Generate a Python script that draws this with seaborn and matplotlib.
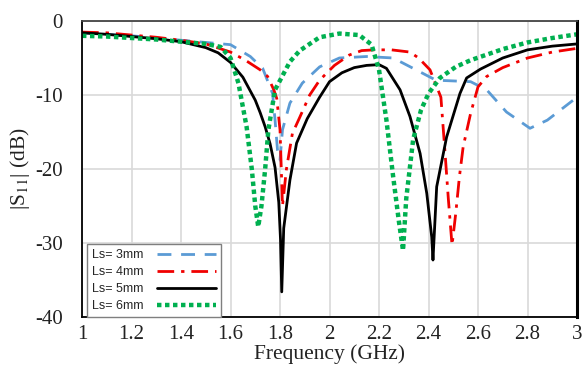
import numpy as np
import pandas as pd
import seaborn as sns
import matplotlib.pyplot as plt

# S11 curves (frequency in GHz, S11 in dB)
freq_3mm = [1.0, 1.1, 1.2, 1.3, 1.4, 1.5, 1.6, 1.68, 1.73, 1.77, 1.78, 1.79, 1.80, 1.81, 1.84,
            1.89, 1.96, 2.04, 2.15, 2.257, 2.338, 2.43, 2.57, 2.635, 2.715, 2.81, 2.88, 3.0]
s11_3mm = [-1.6, -1.8, -2.0, -2.3, -2.6, -2.9, -3.2, -4.8, -6.4, -9.8, -13.4, -17.5, -18.8, -14.7, -11.1,
           -8.4, -6.2, -5.0, -4.8, -5.0, -6.4, -8.0, -8.2, -9.3, -12.3, -14.5, -13.4, -10.3]

freq_4mm = [1.0, 1.1, 1.2, 1.3, 1.4, 1.5, 1.6, 1.66, 1.72, 1.75, 1.775, 1.787, 1.80, 1.81, 1.826,
            1.85, 1.88, 1.92, 1.96, 2.02, 2.08, 2.13, 2.18, 2.25, 2.325, 2.36, 2.406, 2.45, 2.467,
            2.48, 2.495, 2.51, 2.525, 2.54, 2.57, 2.6, 2.635, 2.7, 2.8, 2.9, 3.0]
s11_4mm = [-1.5, -1.6, -1.9, -2.2, -2.6, -3.1, -4.2, -5.3, -6.6, -7.5, -9.3, -10.5, -14.7, -25.0, -20.0,
           -15.2, -13.0, -10.0, -8.0, -6.0, -4.6, -4.0, -3.9, -3.9, -4.2, -5.0, -6.6, -10.3, -17.9,
           -24.0, -30.3, -26.0, -21.0, -17.0, -12.5, -8.9, -7.5, -6.3, -5.0, -4.2, -3.7]

freq_5mm = [1.0, 1.1, 1.2, 1.3, 1.4, 1.5, 1.55, 1.6, 1.65, 1.7, 1.72, 1.74, 1.76, 1.78, 1.795,
            1.802, 1.807, 1.815, 1.84, 1.867, 1.91, 1.96, 2.0, 2.05, 2.1, 2.15, 2.2, 2.23, 2.285,
            2.325, 2.366, 2.393, 2.413, 2.418, 2.433, 2.473, 2.527, 2.554, 2.61, 2.7, 2.8, 2.9, 3.0]
s11_5mm = [-1.6, -1.8, -2.1, -2.4, -2.8, -3.6, -4.3, -5.6, -7.6, -10.7, -12.4, -14.3, -16.6, -19.8, -24.5,
           -29.5, -36.6, -28.0, -21.5, -16.5, -13.2, -10.3, -8.2, -7.0, -6.3, -6.0, -5.9, -6.4, -9.3,
           -12.9, -17.9, -23.3, -29.2, -32.3, -22.4, -15.7, -9.8, -7.7, -6.5, -5.0, -3.9, -3.4, -3.1]

freq_6mm = [1.0, 1.1, 1.2, 1.3, 1.4, 1.5, 1.56, 1.6, 1.632, 1.665, 1.686, 1.70, 1.712, 1.725, 1.74,
            1.753, 1.78, 1.84, 1.88, 1.96, 2.04, 2.12, 2.17, 2.2, 2.23, 2.257, 2.28, 2.297, 2.31,
            2.338, 2.37, 2.40, 2.446, 2.51, 2.57, 2.7, 2.8, 2.9, 3.0]
s11_6mm = [-2.0, -2.1, -2.3, -2.5, -2.8, -3.1, -3.5, -5.0, -8.4, -14.3, -20.0, -25.0, -27.8, -25.0, -20.0,
           -14.7, -9.3, -5.5, -4.0, -2.2, -1.7, -1.9, -3.2, -6.6, -13.4, -21.0, -27.0, -31.0, -24.0,
           -16.0, -12.0, -9.8, -7.7, -6.2, -5.3, -3.8, -2.9, -2.3, -1.8]

labels = ["Ls= 3mm", "Ls= 4mm", "Ls= 5mm", "Ls= 6mm"]
x_ticks = [1, 1.2, 1.4, 1.6, 1.8, 2, 2.2, 2.4, 2.6, 2.8, 3]
y_ticks = [0, -10, -20, -30, -40]

sns.set_theme(style="whitegrid")
plt.rcParams['font.family'] = ['Liberation Serif', 'DejaVu Serif']
plt.rcParams['mathtext.fontset'] = 'stix'
plt.rcParams['axes.unicode_minus'] = False

fig = plt.figure(figsize=(5.87, 3.65), dpi=100)
ax = fig.add_axes([0.1397, 0.1315, 0.8433, 0.811])

series = [
    (freq_3mm, s11_3mm, "#5B9BD5", (0, (5, 3.5)), 2.0),
    (freq_4mm, s11_4mm, "#F00000", (0, (6, 2.5, 1.2, 2.5)), 2.0),
    (freq_5mm, s11_5mm, "black", "-", 2.0),
    (freq_6mm, s11_6mm, "#00B050", (0, (1, 0.8)), 3.2),
]
for (fx, fy, col, ls, lw), lab in zip(series, labels):
    df = pd.DataFrame({"f": fx, "s11": fy})
    sns.lineplot(data=df, x="f", y="s11", ax=ax, color=col, linestyle=ls,
                 linewidth=lw, label=lab, sort=False, estimator=None)

ax.set_xlim(1, 3)
ax.set_ylim(-40, 0)
ax.set_xticks(x_ticks)
ax.set_xticklabels([f"{t:g}" for t in x_ticks])
ax.set_yticks(y_ticks)
ax.grid(True, color="#D9D9D9", linewidth=1.2)
ax.tick_params(axis='x', length=0, pad=6, labelsize=15, colors="#222222")
ax.tick_params(axis='y', length=0, pad=14, labelsize=15, colors="#222222")
for side in ["left", "bottom", "top"]:
    ax.spines[side].set_color("black")
    ax.spines[side].set_linewidth(1.3)
ax.spines["top"].set_color("#444444")
ax.spines["right"].set_color("black")
ax.spines["right"].set_linewidth(2.2)

ax.set_xlabel("Frequency (GHz)", fontsize=15.5, labelpad=0, color="#222222")
ax.set_ylabel("|S$_{11}$| (dB)", fontsize=15.5, labelpad=2, color="#222222")

leg = ax.legend(loc="lower left", bbox_to_anchor=(0.01, 0.0), borderaxespad=0,
                markerfirst=False, handlelength=4.7, handletextpad=1.1,
                labelspacing=0.4, fancybox=False, framealpha=1,
                edgecolor="#7F7F7F", prop={"family": "Liberation Sans", "size": 9})
leg.get_frame().set_linewidth(1.0)

fig.savefig("out.png", dpi=100)
